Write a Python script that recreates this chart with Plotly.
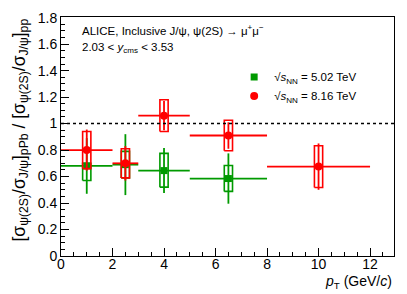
import plotly.graph_objects as go

# ---- data ----
green_pt = [1.0, 2.5, 4.0, 6.5]
green_halfbin = [1.0, 0.5, 1.0, 1.5]
green_val = [0.68, 0.69, 0.645, 0.585]
green_stat = [0.21, 0.23, 0.17, 0.19]
green_sys_lo = [0.11, 0.10, 0.125, 0.097]
green_sys_hi = [0.02, 0.10, 0.13, 0.098]

red_pt = [1.0, 2.5, 4.0, 6.5, 10.0]
red_halfbin = [1.0, 0.5, 1.0, 1.5, 2.0]
red_val = [0.80, 0.70, 1.06, 0.91, 0.675]
red_stat = [0.155, 0.13, 0.11, 0.10, 0.175]
red_sys_lo = [0.14, 0.11, 0.12, 0.115, 0.158]
red_sys_hi = [0.14, 0.11, 0.12, 0.115, 0.158]

GREEN = "#009a00"
RED = "#ff0000"
BOX_HW = 0.16
FONT = "Liberation Sans, Arial, sans-serif"


def box_path(xs, ys, lo, hi, hw):
    bx, by = [], []
    for x, y, l, h in zip(xs, ys, lo, hi):
        bx += [x - hw, x + hw, x + hw, x - hw, x - hw, None]
        by += [y - l, y - l, y + h, y + h, y - l, None]
    return bx, by


fig = go.Figure()

gx, gy = box_path(green_pt, green_val, green_sys_lo, green_sys_hi, BOX_HW)
fig.add_trace(go.Scatter(x=gx, y=gy, mode="lines", line=dict(color=GREEN, width=1.6),
                         showlegend=False, hoverinfo="skip"))
fig.add_trace(go.Scatter(
    x=green_pt, y=green_val, mode="markers", name="√<i>s</i><sub>NN</sub> = 5.02 TeV",
    marker=dict(symbol="square", size=7, color=GREEN),
    error_x=dict(type="data", array=green_halfbin, color=GREEN, thickness=1.8, width=0),
    error_y=dict(type="data", array=green_stat, color=GREEN, thickness=1.8, width=0),
))

rx, ry = box_path(red_pt, red_val, red_sys_lo, red_sys_hi, BOX_HW)
fig.add_trace(go.Scatter(x=rx, y=ry, mode="lines", line=dict(color=RED, width=1.6),
                         showlegend=False, hoverinfo="skip"))
fig.add_trace(go.Scatter(
    x=red_pt, y=red_val, mode="markers", name="√<i>s</i><sub>NN</sub> = 8.16 TeV",
    marker=dict(symbol="circle", size=8, color=RED),
    error_x=dict(type="data", array=red_halfbin, color=RED, thickness=1.8, width=0),
    error_y=dict(type="data", array=red_stat, color=RED, thickness=1.8, width=0),
))

fig.add_shape(type="line", xref="paper", x0=0, x1=1, yref="y", y0=1, y1=1,
              line=dict(color="black", width=1.5, dash="dot"))

fig.update_layout(
    width=407, height=294,
    margin=dict(l=61, r=13, t=10, b=38),
    paper_bgcolor="white", plot_bgcolor="white",
    font=dict(family=FONT, color="black", size=14),
    showlegend=True,
    legend=dict(x=0.52, y=0.81, xanchor="left", yanchor="top",
                bgcolor="rgba(0,0,0,0)", font=dict(size=11.5, family=FONT),
                itemwidth=30, tracegroupgap=0),
    xaxis=dict(range=[0, 12.93], showgrid=False, zeroline=False,
               showline=True, linecolor="black", linewidth=1, mirror=True,
               ticks="inside", ticklen=8, tickcolor="black", dtick=2, tick0=0,
               minor=dict(ticks="inside", ticklen=4, dtick=0.5, tickcolor="black"),
               ticklabelstandoff=-5,
               tickfont=dict(size=14, family=FONT)),
    yaxis=dict(range=[0, 1.805], showgrid=False, zeroline=False,
               showline=True, linecolor="black", linewidth=1, mirror=True,
               ticks="inside", ticklen=8, tickcolor="black", dtick=0.2, tick0=0,
               minor=dict(ticks="inside", ticklen=4, dtick=0.05, tickcolor="black"),
               tickfont=dict(size=14, family=FONT)),
)

fig.add_annotation(
    text="[σ<sub>ψ(2S)</sub>/σ<sub>J/ψ</sub>]<sub>pPb</sub> / [σ<sub>ψ(2S)</sub>/σ<sub>J/ψ</sub>]<sub>pp</sub>",
    xref="paper", yref="paper", x=0, y=1, xanchor="center", yanchor="top",
    xshift=-41, textangle=-90, showarrow=False, font=dict(size=17.5, family=FONT))

fig.add_annotation(
    text="<i>p</i><sub>T</sub> (GeV/<i>c</i>)",
    xref="paper", yref="paper", x=1, y=0, xanchor="right", yanchor="top",
    yshift=-15, showarrow=False, font=dict(size=14, family=FONT))

fig.add_annotation(
    text="ALICE, Inclusive J/ψ, ψ(2S) → μ<sup>+</sup>μ<sup>−</sup>",
    xref="paper", yref="paper", x=0, y=1, xanchor="left", yanchor="top",
    xshift=19, yshift=-4, showarrow=False, font=dict(size=11.5, family=FONT))

fig.add_annotation(
    text="2.03 < <i>y</i><sub>cms</sub> < 3.53",
    xref="paper", yref="paper", x=0, y=1, xanchor="left", yanchor="top",
    xshift=19, yshift=-22, showarrow=False, font=dict(size=11.5, family=FONT))

fig.write_html("out.html", config={"displayModeBar": False})

# remove the default page margin so the figure sits at the window's top-left
with open("out.html", "r", encoding="utf-8") as f:
    html = f.read()
html = html.replace("<head>", "<head><style>html,body{margin:0;padding:0;overflow:hidden;}</style>", 1)
with open("out.html", "w", encoding="utf-8") as f:
    f.write(html)
